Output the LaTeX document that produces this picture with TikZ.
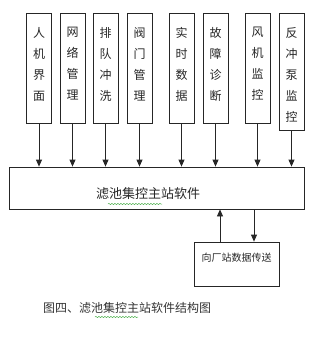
\documentclass[tikz,border=0pt]{standalone}
\usepackage{fontspec}
\setmainfont{Noto Sans CJK SC}
\usetikzlibrary{arrows.meta,decorations.pathmorphing}
\begin{document}
\begin{tikzpicture}[x=1pt,y=-1pt,
  box/.style={draw=black!85,line width=0.8pt,inner sep=0pt},
  topbox/.style={box,minimum width=25pt,minimum height=110pt},
  vtext/.style={anchor=north,inner sep=0pt,font=\fontsize{12pt}{21pt}\selectfont,align=center,text=black!85},
  arr/.style={draw=black!85,line width=0.8pt,-{Triangle[length=7pt,width=6pt]}},
  squig/.style={draw=green!55!black!70,line width=0.5pt,decorate,decoration={snake,amplitude=0.6pt,segment length=3pt}}]
\useasboundingbox (0,0) rectangle (316,348);
% top boxes
\node[topbox] (b1) at (39,68) {};
\node[topbox] (b2) at (72.5,68) {};
\node[topbox] (b3) at (105.5,68) {};
\node[topbox] (b4) at (139.5,68) {};
\node[topbox] (b5) at (181.5,68) {};
\node[topbox] (b6) at (215.5,68) {};
\node[topbox] (b7) at (257.5,68) {};
\node[topbox,minimum height=117pt] (b8) at (291.5,71.5) {};
\node[vtext] (t1) at (39,27) {人\\机\\界\\面};
\node[vtext] (t2) at (72.5,27) {网\\络\\管\\理};
\node[vtext] (t3) at (105.5,27) {排\\队\\冲\\洗};
\node[vtext] (t4) at (139.5,27) {阀\\门\\管\\理};
\node[vtext] (t5) at (181.5,27) {实\\时\\数\\据};
\node[vtext] (t6) at (215.5,27) {故\\障\\诊\\断};
\node[vtext] (t7) at (257.5,27) {风\\机\\监\\控};
\node[vtext] (t8) at (291.5,27) {反\\冲\\泵\\监\\控};
% main box
\node[box,minimum width=295pt,minimum height=42pt] (main) at (156.5,188) {};
\node[inner sep=0pt,font=\fontsize{13pt}{15pt}\selectfont,text=black!85] (mt) at (148,194) {滤池集控主站软件};
% bottom box
\node[box,minimum width=85pt,minimum height=44pt] (out) at (236.5,264) {};
\node[inner sep=0pt,font=\fontsize{10pt}{12pt}\selectfont,text=black!85] (ot) at (236.5,258) {向厂站数据传送};
% caption
\node[inner sep=0pt,font=\fontsize{12pt}{14pt}\selectfont,text=black!80] (cap) at (127,308) {图四、滤池集控主站软件结构图};
% arrows
\foreach \i in {1,...,8} \draw[arr] (b\i.south) -- (b\i.south |- main.north);
\coordinate (u1) at (220,0);
\coordinate (d1) at (254,0);
\draw[arr] (u1 |- out.north) -- (u1 |- main.south);
\draw[arr] (d1 |- main.south) -- (d1 |- out.north);
% spell-check squiggles
\coordinate (s1) at (108,204); \coordinate (s2) at (162,204);
\draw[squig] (s1) -- (s2);
\coordinate (s3) at (95,317); \coordinate (s4) at (138,317);
\draw[squig] (s3) -- (s4);
\end{tikzpicture}
\end{document}
